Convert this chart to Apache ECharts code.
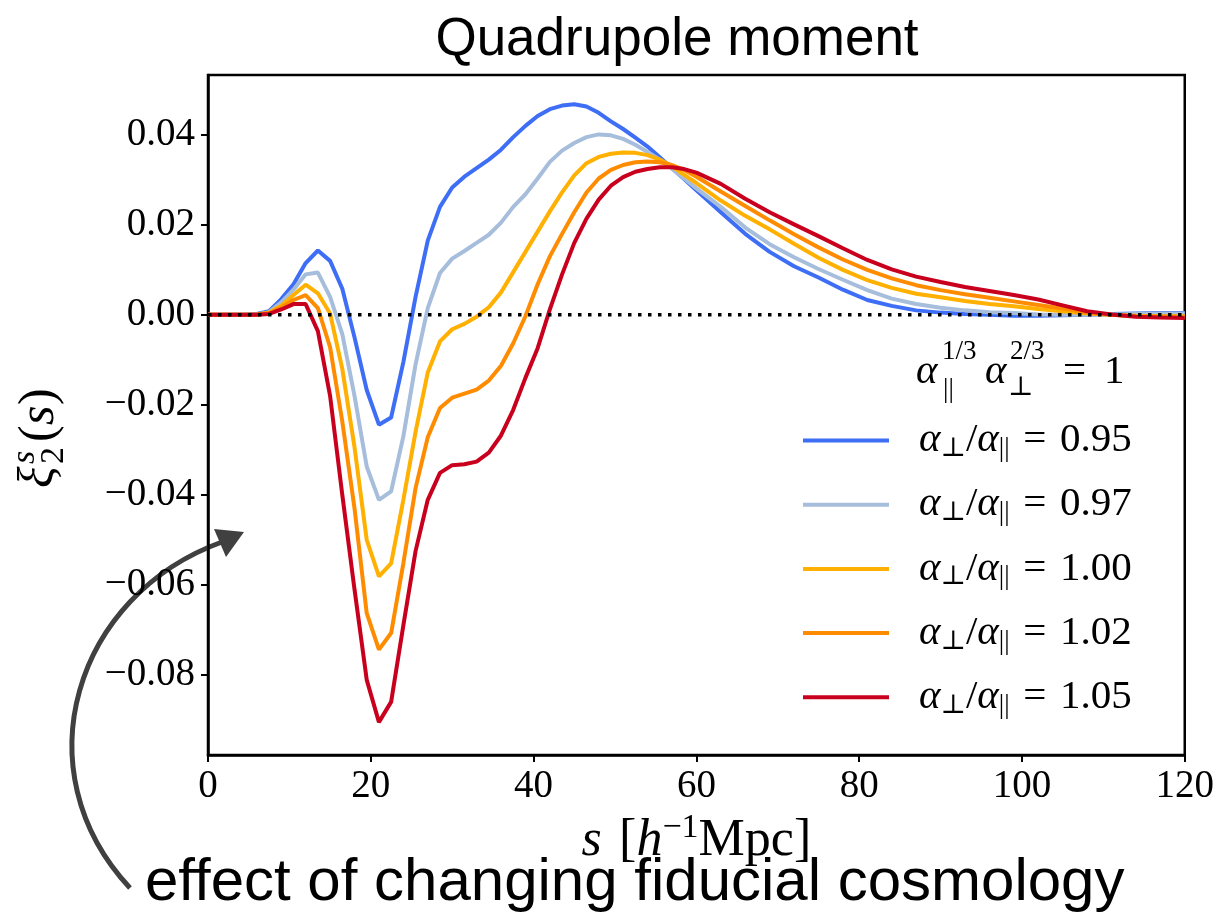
<!DOCTYPE html>
<html>
<head>
<meta charset="utf-8">
<script src="https://cdn.jsdelivr.net/npm/echarts@6/dist/echarts.min.js"></script>
<style>
html,body{margin:0;padding:0;background:#fff;}
#chart{width:1217px;height:918px;}
</style>
</head>
<body>
<div id="chart"></div>
<script>
// ---- data ----
const s = [0,1.5,3,4.5,6,7.5,9,10.5,12,13.5,15,16.5,18,19.5,21,22.5,24,25.5,27,28.5,30,31.5,33,34.5,36,37.5,39,40.5,42,43.5,45,46.5,48,49.5,51,52.5,54,55.5,57,58.5,60,
  63,66,69,72,75,78,81,84,87,90,93,96,99,102,105,108,111,114,117,120];

const blue = [0,0,0,0,0.0002,0.0008,0.0035,0.0068,0.0115,0.0143,0.0120,0.0058,-0.0050,-0.0167,-0.0244,-0.0228,-0.0105,0.0040,0.0165,0.0240,0.0283,0.0307,0.0326,0.0345,0.0367,0.0395,0.0420,0.0442,0.0457,0.0465,0.0468,0.0463,0.0449,0.0430,0.0413,0.0394,0.0374,0.0350,0.0326,0.0302,0.0277,
  0.0228,0.0180,0.0140,0.0108,0.0083,0.0056,0.0033,0.0020,0.0010,0.0005,0.0002,0,-0.0002,-0.0002,-0.0001,0,0.0002,0.0003,0.0004,0.0004];

const lightBlue = [0,0,0,0,0.0001,0.0006,0.0028,0.0056,0.0090,0.0094,0.0040,-0.0043,-0.0180,-0.0337,-0.0411,-0.0392,-0.0270,-0.0110,0.0015,0.0093,0.0125,0.0142,0.0160,0.0178,0.0205,0.0240,0.0268,0.0303,0.0340,0.0365,0.0382,0.0395,0.0401,0.0399,0.0391,0.0378,0.0362,0.0345,0.0325,0.0303,0.0281,
  0.0240,0.0194,0.0157,0.0128,0.0102,0.0078,0.0055,0.0036,0.0024,0.0016,0.0010,0.0006,0.0004,0.0001,0,0,0.0001,0.0002,0.0003,0.0003];

const yellow = [0,0,0,0,0.0001,0.0005,0.0020,0.0044,0.0067,0.0048,0.0003,-0.0120,-0.0294,-0.0500,-0.0581,-0.0552,-0.0411,-0.0260,-0.0128,-0.0059,-0.0032,-0.0020,-0.0004,0.0017,0.0050,0.0095,0.0140,0.0185,0.0230,0.0272,0.0310,0.0337,0.0351,0.0358,0.0361,0.0360,0.0355,0.0345,0.0330,0.0311,0.0293,
  0.0254,0.0220,0.0190,0.0158,0.0127,0.0100,0.0077,0.0060,0.0047,0.0039,0.0031,0.0024,0.0019,0.0013,0.0008,0.0003,0,-0.0002,-0.0003,-0.0003];

const orange = [0,0,0,0,0.0001,0.0004,0.0016,0.0033,0.0044,0.0015,-0.0072,-0.0237,-0.0430,-0.0663,-0.0744,-0.0707,-0.0552,-0.0385,-0.0272,-0.0207,-0.0184,-0.0175,-0.0166,-0.0146,-0.0113,-0.0063,-0.0003,0.0068,0.0130,0.0180,0.0228,0.0272,0.0303,0.0322,0.0333,0.0339,0.0341,0.0339,0.0333,0.0322,0.0307,
  0.0274,0.0242,0.0210,0.0179,0.0150,0.0123,0.0100,0.0081,0.0066,0.0055,0.0046,0.0038,0.0030,0.0022,0.0014,0.0005,0,-0.0003,-0.0004,-0.0004];

const red = [0,0,0,0,0,0.0002,0.0012,0.0024,0.0024,-0.0036,-0.0180,-0.0400,-0.0610,-0.0811,-0.0905,-0.0860,-0.0690,-0.0525,-0.0411,-0.0351,-0.0334,-0.0332,-0.0326,-0.0306,-0.0268,-0.0211,-0.0140,-0.0074,0.0012,0.0090,0.0160,0.0214,0.0256,0.0287,0.0306,0.0318,0.0324,0.0328,0.0328,0.0324,0.0316,
  0.0291,0.0258,0.0228,0.0201,0.0175,0.0148,0.0122,0.0101,0.0085,0.0073,0.0062,0.0053,0.0044,0.0034,0.0021,0.0008,0.0001,-0.0004,-0.0006,-0.0007];

const seriesNames = ['0.95','0.97','1.00','1.02','1.05'];
const seriesColors = ['#3d6ef5','#a6bddb','#ffb000','#ff8c00','#c8001e'];
const yTicks = [-0.08,-0.06,-0.04,-0.02,0.00,0.02,0.04];
const xTicks = [0,20,40,60,80,100,120];
const zeroLine = [0,0];

// ---- chart ----
const SERIF = '"Liberation Serif","DejaVu Serif",serif';
const SANS = '"Liberation Sans",Arial,Helvetica,sans-serif';
const chart = echarts.init(document.getElementById('chart'), null, {renderer:'canvas'});
const curves = [blue, lightBlue, yellow, orange, red];

const richLegend = {
  a:{fontFamily:SERIF, fontStyle:'italic', fontSize:41, lineHeight:44, color:'#000'},
  n:{fontFamily:SERIF, fontSize:41, lineHeight:44, color:'#000'},
  sub:{fontFamily:SERIF, fontSize:27, lineHeight:24, verticalAlign:'bottom', color:'#000'}
};

const series = curves.map((arr,i)=>({
  name: 'α⊥/α|| = ' + seriesNames[i],
  type:'line',
  data: s.map((x,j)=>[x, arr[j]]),
  showSymbol:false, symbol:'none',
  lineStyle:{color:seriesColors[i], width:4},
  itemStyle:{color:seriesColors[i]},
  emphasis:{disabled:true},
  silent:true,
  z: 2+i
}));
series.push({
  name:'zero', type:'line',
  data:[[xTicks[0], zeroLine[0]],[xTicks[xTicks.length-1], zeroLine[1]]],
  showSymbol:false, symbol:'none',
  lineStyle:{color:'#000', width:3.5, type:[3.5,6.5]},
  silent:true, z:20
});

const T = (text, x, y, size, italic) => ({type:'text', style:{text, x, y, fontFamily:SERIF, fontStyle: italic?'italic':'normal', fontSize:size, fill:'#000', textVerticalAlign:'middle'}});

const option = {
  animation:false,
  grid:{left:208, right:32, top:75, bottom:163, show:true, borderColor:'#000', borderWidth:2.5, backgroundColor:'transparent'},
  xAxis:{
    type:'value', min:xTicks[0], max:xTicks[xTicks.length-1], interval:20,
    axisLine:{show:true, onZero:false, lineStyle:{color:'#000', width:2.5}},
    axisTick:{show:true, length:7, lineStyle:{color:'#000', width:2}},
    axisLabel:{color:'#000', fontFamily:SERIF, fontSize:39, margin:12},
    splitLine:{show:false},
    name:'{it|s}{n|\u2004[}{it|h}{sup|−1}{n|Mpc]}',
    nameLocation:'middle', nameGap:55,
    nameTextStyle:{rich:{
      it:{fontFamily:SERIF, fontStyle:'italic', fontSize:52, lineHeight:60, color:'#000'},
      n:{fontFamily:SERIF, fontSize:52, lineHeight:60, color:'#000'},
      sup:{fontFamily:SERIF, fontSize:34, lineHeight:40, verticalAlign:'top', color:'#000'}
    }}
  },
  yAxis:{
    type:'value', min:-0.0978, max:0.0533,
    axisLine:{show:true, onZero:false, lineStyle:{color:'#000', width:2.5}},
    axisTick:{show:true, length:7, customValues:yTicks, lineStyle:{color:'#000', width:2}},
    axisLabel:{color:'#000', fontFamily:SERIF, fontSize:39, margin:13, customValues:yTicks,
      formatter:v=> (Math.abs(v)<1e-9 ? '0.00' : (v<0?'\u2212':'') + Math.abs(v).toFixed(2))},
    splitLine:{show:false}
  },
  legend:{
    data: series.slice(0,5).map(o=>o.name),
    orient:'vertical', left:803, top:420, padding:0,
    icon:'rect', itemWidth:86, itemHeight:4, itemGap:21.7,
    selectedMode:false,
    formatter: name => {
      const v = name.split('= ')[1];
      return '{a|α}{sub|⊥}{n|/}{a|α}{sub|||}{n|\u2004=\u2004' + v + '}';
    },
    textStyle:{rich:richLegend, padding:[0,0,0,25]}
  },
  graphic:[
    {type:'text', style:{text:'Quadrupole moment', x:677, y:40, fontFamily:SANS, fontSize:53, fill:'#000', textAlign:'center', textVerticalAlign:'middle'}},
    // legend header
    {type:'group', children:[
      T('α', 916, 372, 41, true),
      T('1/3', 942, 352, 27, false),
      T('||', 943, 390, 27, false),
      T('α', 985, 372, 41, true),
      T('2/3', 1010, 352, 27, false),
      T('⊥', 1008, 388, 27, false),
      T('=', 1063, 372, 41, false),
      T('1', 1104, 372, 41, false)
    ]},
    // y-axis title
    {type:'group', x:40, y:432, rotation:Math.PI/2, children:[
      T('ξ', -56, 0, 50, true),
      T('s', -32, -15, 34, true),
      T('2', -32, 14, 34, false),
      T('(', -10, 0, 50, false),
      T('s', 7, 0, 50, true),
      T(')', 27, 0, 50, false)
    ]},
    // annotation arrow
    {type:'bezierCurve', shape:{x1:130, y1:888, cpx1:20, cpy1:770, cpx2:75, cpy2:595, x2:222, y2:542},
      style:{stroke:'#404040', lineWidth:5, fill:null}},
    {type:'polygon', shape:{points:[[244,532],[214,529],[226,557]]}, style:{fill:'#404040'}},
    {type:'text', style:{text:'effect of changing fiducial cosmology', x:145, y:883, fontFamily:SANS, fontSize:60, fill:'#000', textVerticalAlign:'middle'}}
  ],
  series: series
};
chart.setOption(option);
</script>
</body>
</html>
